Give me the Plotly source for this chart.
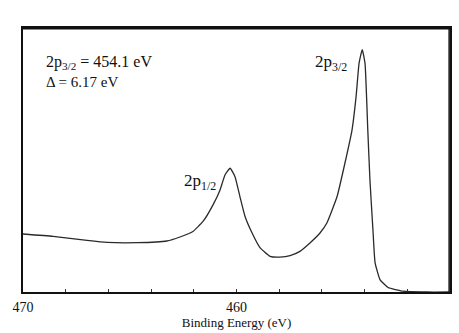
import plotly.graph_objects as go

# Ti 2p XPS spectrum (intensity in arbitrary units)
binding_energy = [470.0, 468.59, 467.0, 466.07, 464.66, 463.26, 462.65, 462.04, 461.57,
                  461.10, 460.77, 460.54, 460.30, 460.07, 459.84, 459.60, 459.27, 458.90,
                  458.43, 457.96, 457.49, 457.03, 456.56, 456.09, 455.76, 455.29, 454.92,
                  454.59, 454.40, 454.26, 454.11, 453.98, 453.85, 453.75, 453.61, 453.51,
                  453.28, 452.90, 452.20, 451.08, 450.05]
intensity = [58.2, 55.8, 51.8, 49.8, 49.5, 51.2, 55.2, 60.8, 70.8,
             87.5, 102.5, 117.5, 124.2, 115.8, 95.8, 75.8, 59.2, 44.5,
             35.8, 35.0, 36.5, 40.8, 49.2, 59.2, 69.5, 95.8, 129.5,
             162.5, 195.8, 229.5, 243.2, 229.5, 162.5, 112.5, 62.5, 29.5,
             12.5, 4.5, 0.8, 0.0, 0.0]

tick_values = [470, 460, 450]
tick_labels = ["470", "460", "450"]

serif = "Liberation Serif"

fig = go.Figure()
fig.add_trace(go.Scatter(
    x=binding_energy, y=intensity, mode="lines",
    line=dict(color="#2a2a2a", width=1.3, shape="spline", smoothing=0.4),
    showlegend=False, hoverinfo="skip",
))

fig.add_annotation(x=469.0, y=230, xref="x", yref="y", xanchor="left", yanchor="middle",
                   text="2p<sub>3/2</sub> = 454.1 eV", showarrow=False,
                   font=dict(family=serif, size=16, color="#111"))
fig.add_annotation(x=469.0, y=211, xref="x", yref="y", xanchor="left", yanchor="middle",
                   text="Δ = 6.17 eV", showarrow=False,
                   font=dict(family=serif, size=15, color="#111"))
fig.add_annotation(x=454.75, y=230, xref="x", yref="y", xanchor="right", yanchor="middle",
                   text="2p<sub>3/2</sub>", showarrow=False,
                   font=dict(family=serif, size=17, color="#111"))
fig.add_annotation(x=460.85, y=110, xref="x", yref="y", xanchor="right", yanchor="middle",
                   text="2p<sub>1/2</sub>", showarrow=False,
                   font=dict(family=serif, size=17, color="#111"))

# Top and right edges of the frame, drawn just inside the plotting area
frame = dict(color="#111", width=1.5)
fig.add_shape(type="line", xref="paper", yref="paper", x0=0, x1=1, y0=0.997, y1=0.997,
              line=frame, layer="above")
fig.add_shape(type="line", xref="paper", yref="paper", x0=0.998, x1=0.998, y0=0, y1=1,
              line=frame, layer="above")

fig.update_xaxes(
    range=[470, 450], tickvals=tick_values, ticktext=tick_labels,
    ticks="inside", ticklen=3, tickcolor="#333",
    minor=dict(dtick=2, ticks="inside", ticklen=3, tickcolor="#333", showgrid=False),
    showline=True, mirror=True, linecolor="#111", linewidth=1.5,
    showgrid=False, zeroline=False, ticklabelstandoff=1, automargin=False,
    tickfont=dict(family=serif, size=14, color="#111"),
    title=dict(text="Binding Energy (eV)", standoff=4,
               font=dict(family=serif, size=13, color="#111")),
)
fig.update_yaxes(
    range=[0, 265], showticklabels=False, ticks="", automargin=False,
    showline=True, mirror=True, linecolor="#111", linewidth=1.5,
    showgrid=False, zeroline=False,
)
fig.update_layout(
    width=459, height=333,
    margin=dict(l=23, r=9, t=28, b=41),
    paper_bgcolor="white", plot_bgcolor="white",
)

fig.write_html("out.html")
